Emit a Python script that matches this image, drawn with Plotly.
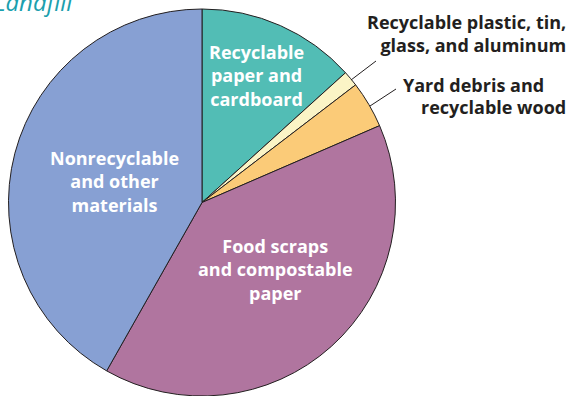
import plotly.graph_objects as go

W, H = 572, 396

categories = [
    "Recyclable paper and cardboard",
    "Recyclable plastic, tin, glass, and aluminum",
    "Yard debris and recyclable wood",
    "Food scraps and compostable paper",
    "Nonrecyclable and other materials",
]
values = [13.3, 1.3, 3.9, 39.7, 41.8]
colors = ["#52BDB5", "#FBF4C6", "#FBCB78", "#B0759F", "#87A0D3"]

inside_labels = {
    "Recyclable paper and cardboard": "Recyclable<br>paper and<br>cardboard",
    "Food scraps and compostable paper": "Food scraps<br>and compostable<br>paper",
    "Nonrecyclable and other materials": "Nonrecyclable<br>and other<br>materials",
}
outside_label_plastic = "Recyclable plastic, tin,<br>glass, and aluminum"
outside_label_yard = ["Yard debris and", "recyclable wood"]
title_text = "Landfill"

def px(x):
    return x / W

def py(y):
    return 1 - y / H

fig = go.Figure(go.Pie(
    labels=categories,
    values=values,
    sort=False,
    direction="clockwise",
    rotation=0,
    textinfo="none",
    marker=dict(colors=colors, line=dict(color="#231F20", width=1)),
    domain=dict(x=[px(8.5), px(395.5)], y=[0, py(9)]),
    showlegend=False,
))

FONT = "Open Sans"
inside_pos = {
    "Recyclable paper and cardboard": (256, 75),
    "Food scraps and compostable paper": (275, 269),
    "Nonrecyclable and other materials": (114, 181),
}
annotations = []
for key, (cx, cy) in inside_pos.items():
    annotations.append(dict(
        x=px(cx), y=py(cy), xref="paper", yref="paper",
        text=inside_labels[key], showarrow=False, align="center",
        xanchor="center", yanchor="middle",
        font=dict(family=FONT, size=18, color="white", weight="bold"),
    ))

annotations.append(dict(
    x=px(568), y=py(33), xref="paper", yref="paper",
    text=outside_label_plastic, showarrow=False, align="right",
    xanchor="right", yanchor="middle",
    font=dict(family=FONT, size=18, color="#231F20", weight="bold"),
))

for txt, x0, base in zip(outside_label_yard, [401, 419], [91, 113]):
    annotations.append(dict(
        x=px(x0), y=py(base - 6), xref="paper", yref="paper",
        text=txt, showarrow=False, xanchor="left", yanchor="middle",
        font=dict(family=FONT, size=18, color="#231F20", weight="bold"),
    ))

annotations.append(dict(
    x=px(-8), y=py(20), xref="paper", yref="paper",
    text="<i>" + title_text + "</i>", showarrow=False,
    xanchor="left", yanchor="bottom",
    font=dict(family=FONT, size=24, color="#1C9FAE"),
))

shapes = [
    dict(type="line", xref="paper", yref="paper",
         x0=px(351), y0=py(80), x1=px(376), y1=py(61),
         line=dict(color="#231F20", width=1)),
    dict(type="line", xref="paper", yref="paper",
         x0=px(370), y0=py(106), x1=px(396), y1=py(89),
         line=dict(color="#231F20", width=1)),
]

fig.update_layout(
    width=W, height=H,
    margin=dict(l=0, r=0, t=0, b=0),
    paper_bgcolor="white",
    plot_bgcolor="white",
    annotations=annotations,
    shapes=shapes,
)

fig.write_html("out.html", config={"displayModeBar": False},
               post_script="document.body.style.margin='0px';")
